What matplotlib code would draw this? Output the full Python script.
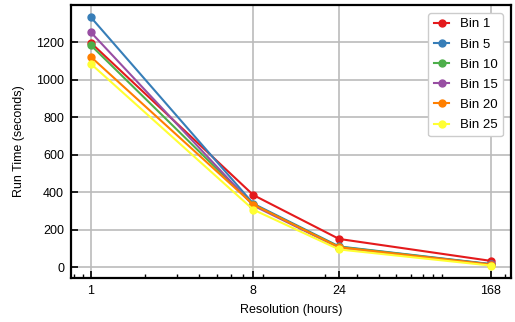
import matplotlib
matplotlib.use("Agg")
import matplotlib.pyplot as plt
from matplotlib.ticker import FixedLocator, FixedFormatter, LogLocator, NullFormatter

plt.rcParams['font.family'] = ['Liberation Sans', 'DejaVu Sans']

resolution = [1, 8, 24, 168]
tick_labels = ["1", "8", "24", "168"]
series_names = ["Bin 1", "Bin 5", "Bin 10", "Bin 15", "Bin 20", "Bin 25"]
bin1 = [1197, 386, 152, 35]
bin5 = [1333, 340, 112, 18]
bin10 = [1184, 335, 110, 17]
bin15 = [1253, 330, 105, 16]
bin20 = [1122, 335, 108, 15]
bin25 = [1085, 308, 96, 10]
colors = ["#e41a1c", "#377eb8", "#4daf4a", "#984ea3", "#ff7f00", "#ffff33"]

fig = plt.figure(figsize=(5.15, 3.22), dpi=100)
ax = fig.add_axes([71/515, 1-278/322, 440/515, 273/322])

for name, vals, c in zip(series_names, [bin1, bin5, bin10, bin15, bin20, bin25], colors):
    ax.plot(resolution, vals, '-o', color=c, label=name, lw=1.5, ms=5)

ax.set_xscale('log')
ax.xaxis.set_major_locator(FixedLocator(resolution))
ax.xaxis.set_major_formatter(FixedFormatter(tick_labels))
ax.xaxis.set_minor_locator(LogLocator(base=10, subs=range(2, 10)))
ax.xaxis.set_minor_formatter(NullFormatter())
ax.set_yticks([0, 200, 400, 600, 800, 1000, 1200])

ax.grid(True, which='major', color='#bbbbbb', lw=1.2)
ax.set_axisbelow(True)
for s in ax.spines.values():
    s.set_linewidth(1.6)
ax.tick_params(which='major', direction='in', length=5, width=1.2, labelsize=9, pad=5)
ax.tick_params(which='minor', direction='in', length=3, width=1.0)

ax.set_xlabel("Resolution (hours)", fontsize=9, labelpad=5)
ax.set_ylabel("Run Time (seconds)", fontsize=9, labelpad=8)

leg = ax.legend(loc='upper right', fontsize=9.5, fancybox=True, framealpha=1,
                edgecolor='#cccccc', handlelength=1.2, labelspacing=0.6,
                borderaxespad=0.6)

fig.savefig("out.png", dpi=100)
